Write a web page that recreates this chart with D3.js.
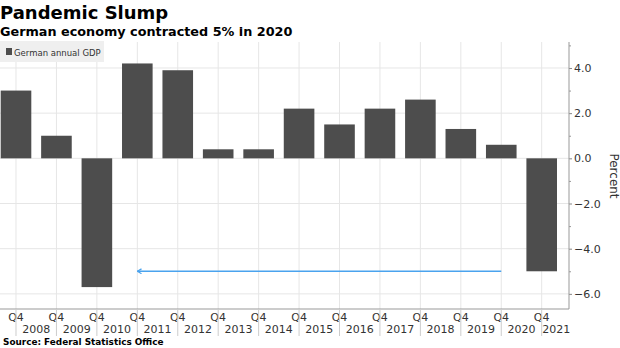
<!DOCTYPE html>
<html>
<head>
<meta charset="utf-8">
<script src="https://cdn.jsdelivr.net/npm/d3@7"></script>
<style>
  body { margin: 0; background: #fff; }
  text { font-family: "DejaVu Sans", sans-serif; }
</style>
</head>
<body>
<div id="chart"></div>
<script>
// Data
const years = [2007, 2008, 2009, 2010, 2011, 2012, 2013, 2014, 2015, 2016, 2017, 2018, 2019, 2020];
const gdp = [3.0, 1.0, -5.7, 4.2, 3.9, 0.4, 0.4, 2.2, 1.5, 2.2, 2.6, 1.3, 0.6, -5.0];
const yearLabels = [2008, 2009, 2010, 2011, 2012, 2013, 2014, 2015, 2016, 2017, 2018, 2019, 2020, 2021];
const yTicks = [4, 2, 0, -2, -4, -6];
const minorTicks = [5, 3, 1, -1, -3, -5];
const arrowFrom = 2019, arrowTo = 2010, arrowLevel = -5.0;

const W = 620, H = 348;
const margin = {top: 42, right: 51, bottom: 39, left: 0};
const plotR = W - margin.right, plotB = H - margin.bottom;

const svg = d3.select('#chart')
              .append('svg')
              .attr('width', W)
              .attr('height', H);

// Q4 of 2007 sits at x=16, Q4 of 2020 at x=541.7
const step = 40.44;
const x = d3.scaleLinear()
            .domain([2007 - 16 / step, 2020 + (plotR - 541.7) / step])
            .range([0, plotR]);

const y = d3.scaleLinear()
            .domain([5.15, -6.67])
            .range([margin.top, plotB]);

// grid
svg.append('g')
   .selectAll('line')
   .data(yTicks)
   .enter()
   .append('line')
   .attr('x1', 0).attr('x2', plotR)
   .attr('y1', d => y(d)).attr('y2', d => y(d))
   .attr('stroke', '#e6e6e6');

svg.append('g')
   .selectAll('line')
   .data(years)
   .enter()
   .append('line')
   .attr('x1', d => x(d)).attr('x2', d => x(d))
   .attr('y1', margin.top).attr('y2', plotB)
   .attr('stroke', '#e6e6e6');

// bars
const bw = 30.6;
svg.selectAll('rect.bar')
   .data(years.map((yr, i) => ({yr, v: gdp[i]})))
   .enter()
   .append('rect')
   .attr('class', 'bar')
   .attr('x', d => x(d.yr) - bw / 2)
   .attr('y', d => y(Math.max(0, d.v)))
   .attr('width', bw)
   .attr('height', d => Math.abs(y(d.v) - y(0)))
   .attr('fill', '#4d4d4d');

// arrow
svg.append('defs')
   .append('marker')
   .attr('id', 'head')
   .attr('viewBox', '0 0 10 10')
   .attr('refX', 9).attr('refY', 5)
   .attr('markerWidth', 6).attr('markerHeight', 6)
   .attr('markerUnits', 'userSpaceOnUse')
   .attr('orient', 'auto')
   .append('path')
   .attr('d', 'M2,1 L9,5 L2,9')
   .attr('fill', 'none')
   .attr('stroke', '#4aa3ee')
   .attr('stroke-width', 2);

svg.append('line')
   .attr('x1', x(arrowFrom)).attr('x2', x(arrowTo))
   .attr('y1', y(arrowLevel)).attr('y2', y(arrowLevel))
   .attr('stroke', '#4aa3ee')
   .attr('stroke-width', 1.6)
   .attr('marker-end', 'url(#head)');

// right axis
const yAxis = svg.append('g')
   .attr('transform', `translate(${plotR},0)`)
   .call(d3.axisRight(y).tickValues(yTicks).tickFormat(d3.format('.1f')).tickSize(3).tickPadding(2));
yAxis.select('.domain').remove();
yAxis.selectAll('line').attr('stroke', '#888');
yAxis.selectAll('text')
     .attr('font-size', '11px')
     .attr('fill', '#333');

svg.append('g')
   .attr('transform', `translate(${plotR},0)`)
   .call(d3.axisRight(y).tickValues(minorTicks).tickFormat('').tickSize(2))
   .call(g => g.select('.domain').remove())
   .selectAll('line').attr('stroke', '#999');

svg.append('line')
   .attr('x1', plotR).attr('x2', plotR)
   .attr('y1', margin.top).attr('y2', plotB)
   .attr('stroke', '#999');

// bottom axis
svg.append('line')
   .attr('x1', 0).attr('x2', plotR)
   .attr('y1', plotB).attr('y2', plotB)
   .attr('stroke', '#999');

const xg = svg.append('g');
xg.selectAll('text.q')
  .data(years)
  .enter()
  .append('text')
  .attr('x', d => x(d))
  .attr('y', plotB + 12)
  .attr('text-anchor', 'middle')
  .attr('font-size', '11px')
  .attr('fill', '#333')
  .text('Q4');

xg.selectAll('line.sep')
  .data(years)
  .enter()
  .append('line')
  .attr('x1', d => x(d)).attr('x2', d => x(d))
  .attr('y1', plotB).attr('y2', plotB + 27)
  .attr('stroke', '#ccc');

xg.selectAll('text.yr')
  .data(yearLabels)
  .enter()
  .append('text')
  .attr('x', d => d === 2021 ? (x(d - 1) + plotR) / 2 + 1 : (x(d - 1) + x(d)) / 2)
  .attr('y', plotB + 24)
  .attr('text-anchor', 'middle')
  .attr('font-size', '11px')
  .attr('fill', '#333')
  .text(d => d);

// axis title
svg.append('text')
   .attr('transform', `translate(610,176) rotate(90)`)
   .attr('text-anchor', 'middle')
   .attr('font-size', '12px')
   .attr('fill', '#333')
   .text('Percent');

// legend
svg.append('rect')
   .attr('x', 0).attr('y', 41)
   .attr('width', 104).attr('height', 21)
   .attr('fill', '#efefef');
svg.append('rect')
   .attr('x', 6).attr('y', 48)
   .attr('width', 6).attr('height', 7)
   .attr('fill', '#4d4d4d');
svg.append('text')
   .attr('x', 14).attr('y', 55.5)
   .attr('font-size', '8.5px')
   .attr('fill', '#333')
   .text('German annual GDP');

// titles
svg.append('text')
   .attr('x', 0).attr('y', 19)
   .attr('font-size', '18px')
   .attr('font-weight', 'bold')
   .attr('fill', '#000')
   .text('Pandemic Slump');

svg.append('text')
   .attr('x', 0).attr('y', 36)
   .attr('font-size', '12.8px')
   .attr('font-weight', 'bold')
   .attr('fill', '#000')
   .text('German economy contracted 5% in 2020');

svg.append('text')
   .attr('x', 3).attr('y', 345)
   .attr('font-size', '8.9px')
   .attr('font-weight', 'bold')
   .attr('fill', '#000')
   .text('Source: Federal Statistics Office');
</script>
</body>
</html>
